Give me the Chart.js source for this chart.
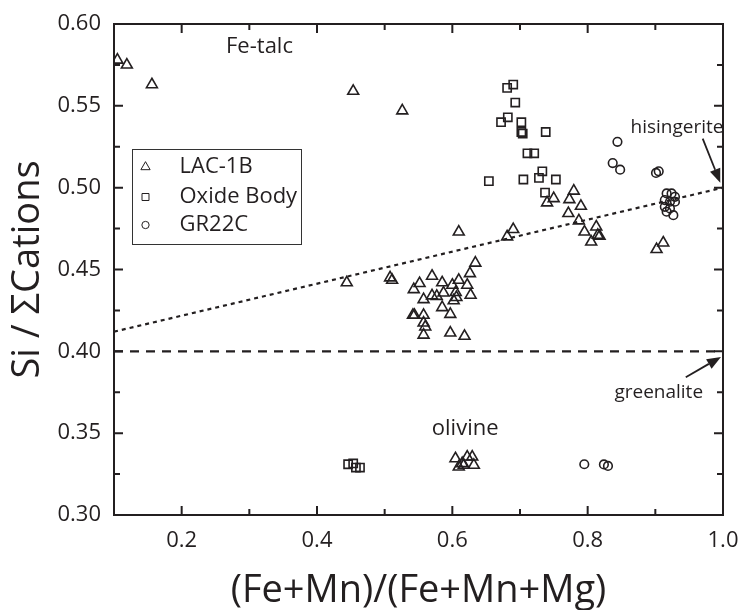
<!DOCTYPE html>
<html><head><meta charset="utf-8">
<script src="https://cdn.jsdelivr.net/npm/chart.js@4.4.1/dist/chart.umd.min.js"></script>
<style>html,body{margin:0;padding:0;background:#fff;}canvas{display:block;}</style>
</head><body>
<canvas id="c" width="742" height="610"></canvas>
<script>
// ---- data ----
const seriesNames = ['LAC-1B', 'Oxide Body', 'GR22C'];

const lacX = [0.105,0.119,0.156,0.4535,0.526,0.444,0.6095,0.681,0.690,0.508,0.511,
  0.634,0.626,0.570,0.5516,0.543,0.585,0.6095,0.600,0.622,0.627,0.605,0.606,0.602,0.570,0.577,0.587,0.5575,0.585,0.597,0.5418,0.544,0.5575,0.5575,0.560,0.5575,0.597,0.618,
  0.7795,0.773,0.7498,0.740,0.790,0.7715,0.787,0.7953,0.8127,0.8176,0.815,0.8052,0.9018,0.9117,
  0.6046,0.6146,0.622,0.6294,0.617,0.6318,0.6095];
const lacY = [0.578,0.575,0.563,0.559,0.547,0.442,0.473,0.470,0.4745,0.445,0.4435,
  0.454,0.4476,0.446,0.4415,0.4378,0.442,0.4435,0.4405,0.4405,0.4344,0.436,0.433,0.431,0.434,0.4337,0.4357,0.4317,0.4268,0.4227,0.4221,0.4221,0.4221,0.4174,0.415,0.410,0.4113,0.4093,
  0.498,0.4928,0.4934,0.4908,0.4887,0.4843,0.4798,0.473,0.4761,0.4704,0.471,0.4669,0.4623,0.4663,
  0.3345,0.3315,0.3355,0.3355,0.3305,0.3305,0.3294];

const oxideX = [0.681,0.690,0.693,0.672,0.682,0.702,0.702,0.704,0.738,0.711,0.721,0.654,0.705,0.728,0.733,0.753,0.737,0.446,0.4535,0.4575,0.4635];
const oxideY = [0.561,0.563,0.552,0.540,0.543,0.540,0.534,0.533,0.534,0.521,0.521,0.504,0.505,0.506,0.510,0.505,0.497,0.331,0.3315,0.329,0.329];

const grX = [0.844,0.837,0.848,0.901,0.905,0.9167,0.924,0.929,0.914,0.9216,0.929,0.914,0.9216,0.9167,0.9266,0.795,0.824,0.830];
const grY = [0.528,0.515,0.511,0.509,0.510,0.4965,0.4965,0.4944,0.4924,0.4914,0.4914,0.4883,0.4873,0.4853,0.4832,0.331,0.3309,0.330];

const hisingeriteX = [0.1, 1.0];
const hisingeriteY = [0.412, 0.500];
const greenaliteX = [0.1, 1.0];
const greenaliteY = [0.40, 0.40];

const xMajorTicks = [0.2, 0.4, 0.6, 0.8, 1.0];
const yMajorTicks = [0.30, 0.35, 0.40, 0.45, 0.50, 0.55, 0.60];

const xTitle = '(Fe+Mn)/(Fe+Mn+Mg)';
const yTitle = 'Si / \u03A3Cations';

const annotTexts = ['Fe-talc', 'olivine', 'hisingerite', 'greenalite'];
const annotX = [0.315, 0.619, 0.932, 0.905];
const annotY = [0.586, 0.353, 0.5366, 0.3749];
const annotSize = [22, 22, 19, 19];

const arrowFromX = [0.970, 0.945];
const arrowFromY = [0.530, 0.3842];
const arrowToX = [0.996, 0.997];
const arrowToY = [0.503, 0.3966];

// ---- helpers ----
const INK = '#231f20';
const FONT = "'Open Sans', sans-serif";
const zip = (xs, ys) => xs.map((x, i) => ({x: x, y: ys[i]}));
const isMajor = (v, arr) => arr.some(t => Math.abs(t - v) < 1e-6);

const framePlugin = {
  id: 'frame',
  afterDatasetsDraw(chart) {
    const ctx = chart.ctx;
    const a = chart.chartArea;
    const xs = chart.scales.x, ys = chart.scales.y;
    ctx.save();
    ctx.strokeStyle = INK;
    ctx.lineWidth = 2;
    ctx.strokeRect(a.left, a.top, a.right - a.left, a.bottom - a.top);
    ctx.beginPath();
    xs.ticks.forEach(t => {
      const px = xs.getPixelForValue(t.value);
      if (px <= a.left + 1 || px >= a.right - 1) return;
      const len = isMajor(t.value, xMajorTicks) ? 9 : 6;
      ctx.moveTo(px, a.bottom); ctx.lineTo(px, a.bottom - len);
      ctx.moveTo(px, a.top); ctx.lineTo(px, a.top + len);
    });
    ys.ticks.forEach(t => {
      const py = ys.getPixelForValue(t.value);
      if (py <= a.top + 1 || py >= a.bottom - 1) return;
      const len = isMajor(t.value, yMajorTicks) ? 9 : 6;
      ctx.moveTo(a.left, py); ctx.lineTo(a.left + len, py);
      ctx.moveTo(a.right, py); ctx.lineTo(a.right - len, py);
    });
    ctx.stroke();

    // annotations
    ctx.fillStyle = INK;
    ctx.textAlign = 'center';
    ctx.textBaseline = 'middle';
    annotTexts.forEach((s, i) => {
      ctx.font = annotSize[i] + 'px ' + FONT;
      ctx.fillText(s, xs.getPixelForValue(annotX[i]), ys.getPixelForValue(annotY[i]));
    });
    // arrows
    arrowFromX.forEach((fx, i) => {
      const x0 = xs.getPixelForValue(fx), y0 = ys.getPixelForValue(arrowFromY[i]);
      const x1 = xs.getPixelForValue(arrowToX[i]), y1 = ys.getPixelForValue(arrowToY[i]);
      const ang = Math.atan2(y1 - y0, x1 - x0);
      const hl = 14, hw = 5.5;
      const bx = x1 - hl * Math.cos(ang), by = y1 - hl * Math.sin(ang);
      ctx.lineWidth = 1.8;
      ctx.beginPath(); ctx.moveTo(x0, y0); ctx.lineTo(bx, by); ctx.stroke();
      ctx.beginPath();
      ctx.moveTo(x1, y1);
      ctx.lineTo(bx + hw * Math.sin(ang), by - hw * Math.cos(ang));
      ctx.lineTo(bx - hw * Math.sin(ang), by + hw * Math.cos(ang));
      ctx.closePath(); ctx.fill();
    });

    // legend
    const lx = a.left + 17.5, ly = a.top + 125;
    ctx.lineWidth = 1;
    ctx.strokeStyle = '#333';
    ctx.strokeRect(Math.round(lx) + 0.5, Math.round(ly) + 0.5, 169, 95);
    ctx.font = '22px ' + FONT;
    ctx.textAlign = 'left';
    const rows = [18, 48, 76];
    chart.data.datasets.forEach((ds, i) => {
      if (i > 2) return;
      const cy = ly + rows[i];
      ctx.strokeStyle = INK;
      ctx.fillStyle = 'rgba(0,0,0,0)';
      Chart.helpers.drawPoint(ctx, {pointStyle: ds.pointStyle, radius: ds.pointRadius * 0.85, borderWidth: 1.5, rotation: 0}, lx + 14, cy);
      ctx.fillStyle = INK;
      ctx.fillText(ds.label, lx + 48, cy);
    });
    ctx.restore();
  }
};

const ptBase = {showLine: false, borderColor: INK, backgroundColor: 'rgba(0,0,0,0)', borderWidth: 1.6, pointBorderWidth: 1.6, pointHoverRadius: 0};

Chart.defaults.font.family = FONT;
Chart.defaults.color = INK;

new Chart(document.getElementById('c'), {
  type: 'scatter',
  data: {
    datasets: [
      Object.assign({label: seriesNames[0], data: zip(lacX, lacY), pointStyle: 'triangle', pointRadius: 6.3, order: 1}, ptBase),
      Object.assign({label: seriesNames[1], data: zip(oxideX, oxideY), pointStyle: 'rect', pointRadius: 5.8, order: 1}, ptBase),
      Object.assign({label: seriesNames[2], data: zip(grX, grY), pointStyle: 'circle', pointRadius: 4.3, order: 1}, ptBase),
      {label: 'hisingerite', type: 'line', data: zip(hisingeriteX, hisingeriteY), showLine: true, pointRadius: 0, borderColor: INK, borderWidth: 2.2, borderDash: [4, 4], fill: false, order: 2},
      {label: 'greenalite', type: 'line', data: zip(greenaliteX, greenaliteY), showLine: true, pointRadius: 0, borderColor: INK, borderWidth: 2.2, borderDash: [9, 7], fill: false, order: 2}
    ]
  },
  options: {
    responsive: false,
    animation: false,
    devicePixelRatio: 1,
    layout: {padding: {top: 0, right: 0, bottom: 0, left: 0}},
    plugins: {legend: {display: false}, tooltip: {enabled: false}},
    scales: {
      x: {
        type: 'linear', min: 0.1, max: 1.0,
        grid: {display: false, drawTicks: false},
        border: {display: false},
        ticks: {
          stepSize: 0.1, autoSkip: false, padding: 13, color: INK,
          font: {size: 22, family: FONT},
          callback: v => isMajor(v, xMajorTicks) ? v.toFixed(1) : ''
        },
        title: {display: true, text: xTitle, color: INK, font: {size: 38, family: FONT, lineHeight: 1.0}, padding: 0},
        afterFit: s => { s.height = 95; s.paddingRight = 19; s.paddingLeft = 0; }
      },
      y: {
        type: 'linear', min: 0.3, max: 0.6,
        grid: {display: false, drawTicks: false},
        border: {display: false},
        ticks: {
          stepSize: 0.025, autoSkip: false, padding: 13, color: INK,
          font: {size: 22, family: FONT},
          callback: v => isMajor(v, yMajorTicks) ? v.toFixed(2) : ''
        },
        title: {display: true, text: yTitle, color: INK, font: {size: 38, family: FONT, lineHeight: 1.2}, padding: {top: 5, bottom: 0}},
        afterFit: s => { s.width = 114; s.paddingTop = 24; s.paddingBottom = 0; }
      }
    }
  },
  plugins: [framePlugin]
});
</script>
</body></html>
